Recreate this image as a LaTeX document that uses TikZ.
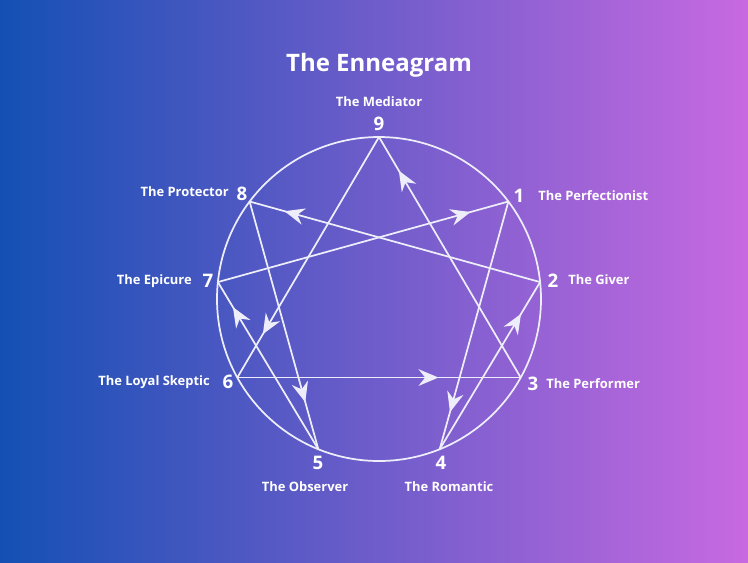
\documentclass[tikz,border=0pt]{standalone}
\usepackage{fontspec}
\setmainfont{Open Sans}
\usetikzlibrary{arrows.meta,decorations.markings}

\definecolor{bgleft}{HTML}{1450B4}
\definecolor{bgright}{HTML}{C869E1}
\definecolor{linecol}{HTML}{EEEEFA}

\tikzset{
  edge/.style={draw=linecol, line width=1.3pt},
  arr/.style={edge, postaction={decorate},
    decoration={markings, mark=at position #1 with
      {\arrow{Stealth[length=15pt,width=12.5pt,inset=5pt,color=linecol]}}}},
  typenum/.style={text=white, font=\bfseries\fontsize{14}{14}\selectfont, inner sep=0pt},
  typename/.style={text=white, font=\bfseries\fontsize{9.7}{11}\selectfont, inner sep=0pt,
    text height=1.5ex, text depth=0.4ex},
}

\begin{document}
\begin{tikzpicture}[x=0.75pt, y=0.75pt]
  \shade[left color=bgleft, right color=bgright] (-379,-263) rectangle (369,299);
  \useasboundingbox (-379,-263) rectangle (369,299);

  % points on the circle
  \coordinate (p9) at (90:162);
  \coordinate (p1) at (37:162);
  \coordinate (p2) at (6:162);
  \coordinate (p3) at (-29:162);
  \coordinate (p4) at (-68:162);
  \coordinate (p5) at (-112:162);
  \coordinate (p6) at (-151:162);
  \coordinate (p7) at (174:162);
  \coordinate (p8) at (143:162);

  \draw[edge] (0,0) circle (162);

  % triangle
  \draw[arr=0.86] (p3) -- (p9);
  \draw[arr=0.82] (p9) -- (p6);
  \draw[arr=0.71] (p6) -- (p3);
  % hexad
  \draw[arr=0.85] (p1) -- (p4);
  \draw[arr=0.81] (p4) -- (p2);
  \draw[arr=0.88] (p2) -- (p8);
  \draw[arr=0.81] (p8) -- (p5);
  \draw[arr=0.85] (p5) -- (p7);
  \draw[arr=0.87] (p7) -- (p1);

  \node[text=white, font=\bfseries\fontsize{18}{20}\selectfont] (title) at (0,234) {The Enneagram};

  \node[typenum] (n9) at (0,175) {9};
  \node[typenum] (n1) at (140,103) {1};
  \node[typenum] (n2) at (174,18) {2};
  \node[typenum] (n3) at (154,-85) {3};
  \node[typenum] (n4) at (62,-164) {4};
  \node[typenum] (n5) at (-61,-164) {5};
  \node[typenum] (n6) at (-151,-83) {6};
  \node[typenum] (n7) at (-171,18) {7};
  \node[typenum] (n8) at (-137,105) {8};

  \node[typename] (t9) at (0,196) {The Mediator};
  \node[typename, anchor=west] (t1) at (159,102) {The Perfectionist};
  \node[typename, anchor=west] (t2) at (189,18) {The Giver};
  \node[typename, anchor=west] (t3) at (167,-86) {The Performer};
  \node[typename] (t4) at (70,-189) {The Romantic};
  \node[typename] (t5) at (-74,-189) {The Observer};
  \node[typename, anchor=east] (t6) at (-169,-83) {The Loyal Skeptic};
  \node[typename, anchor=east] (t7) at (-187,18) {The Epicure};
  \node[typename, anchor=east] (t8) at (-150,106) {The Protector};
\end{tikzpicture}
\end{document}
